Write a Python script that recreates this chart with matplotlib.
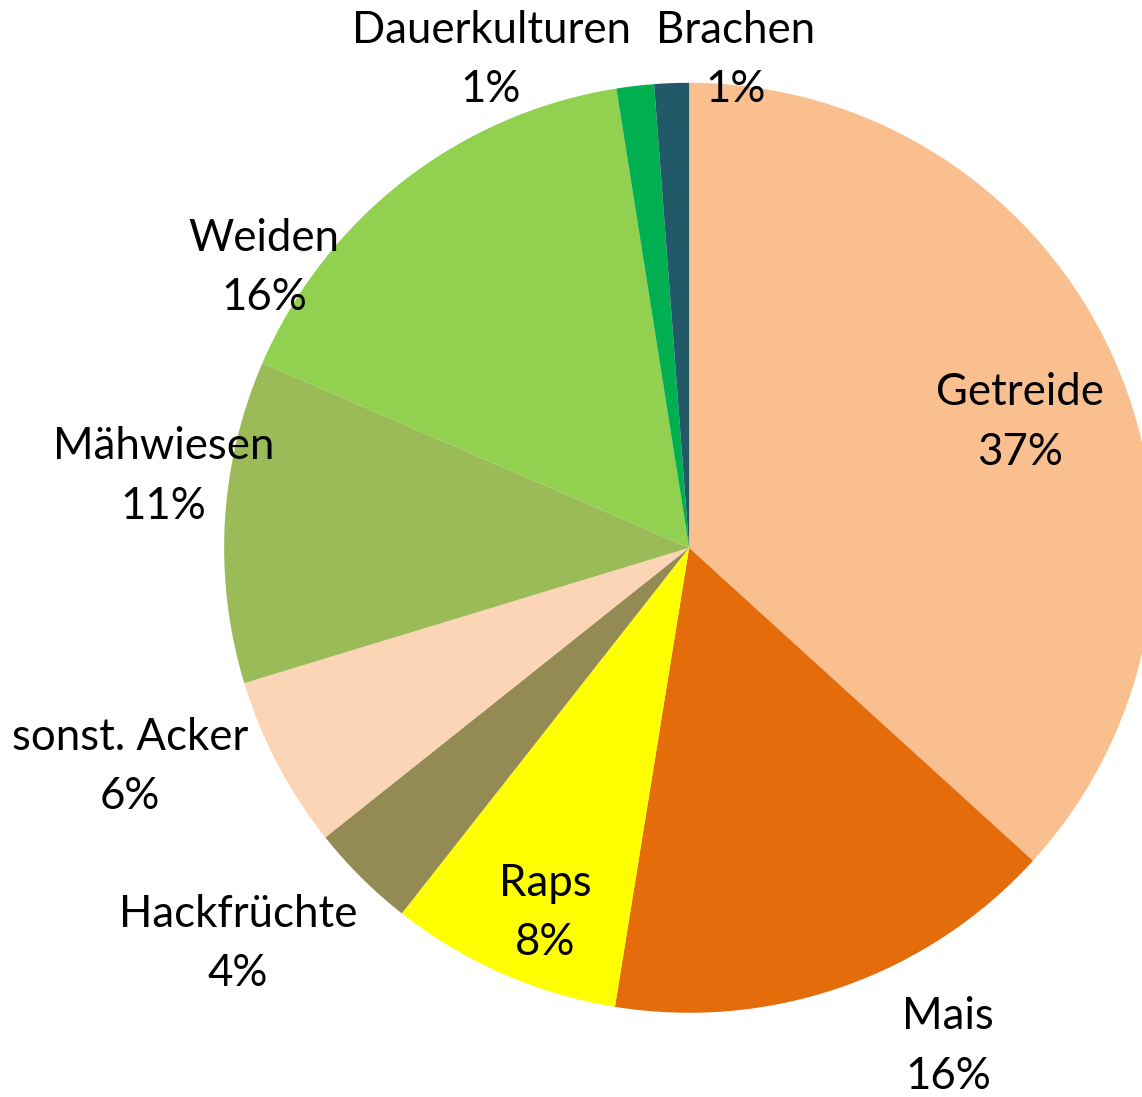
import matplotlib
matplotlib.use("Agg")
import matplotlib.pyplot as plt

# slice data, clockwise from 12 o'clock
labels = ["Getreide", "Mais", "Raps", "Hackfrüchte", "sonst. Acker",
          "Mähwiesen", "Weiden", "Dauerkulturen", "Brachen"]
shares = [36.75, 15.8, 8.05, 3.7, 6.0, 11.2, 16.0, 1.3, 1.2]
pct_text = ["37%", "16%", "8%", "4%", "6%", "11%", "16%", "1%", "1%"]
colors = ["#F9BF8F", "#E46C0A", "#FFFF00", "#948A54", "#FBD5B5",
          "#9BBB59", "#92D050", "#00B050", "#215968"]

# label placement (layout only), in units of pie radius
label_pos = [(0.712, 0.269), (0.557, -1.073), (-0.310, -0.785),
             (-0.970, -0.852), (-1.202, -0.471), (-1.131, 0.153),
             (-0.914, 0.602), (-0.426, 1.049), (0.099, 1.049)]

plt.rcParams["font.family"] = ["Lato", "DejaVu Sans"]

fig = plt.figure(figsize=(11.42, 10.97), dpi=100)
ax = fig.add_axes([0, 0, 1, 1])
ax.pie(shares, colors=colors, startangle=90, counterclock=False,
       radius=1.0, center=(0, 0), wedgeprops=dict(linewidth=0))

for (x, y), name, pct in zip(label_pos, labels, pct_text):
    ax.text(x, y, f"{name}\n{pct}", ha="center", va="center",
            fontsize=31.5, linespacing=1.56, color="black")

ax.set_xlim(-1.482, 0.974)
ax.set_ylim(-1.181, 1.178)
ax.set_aspect("equal")
ax.axis("off")

fig.savefig("out.png", dpi=100)
